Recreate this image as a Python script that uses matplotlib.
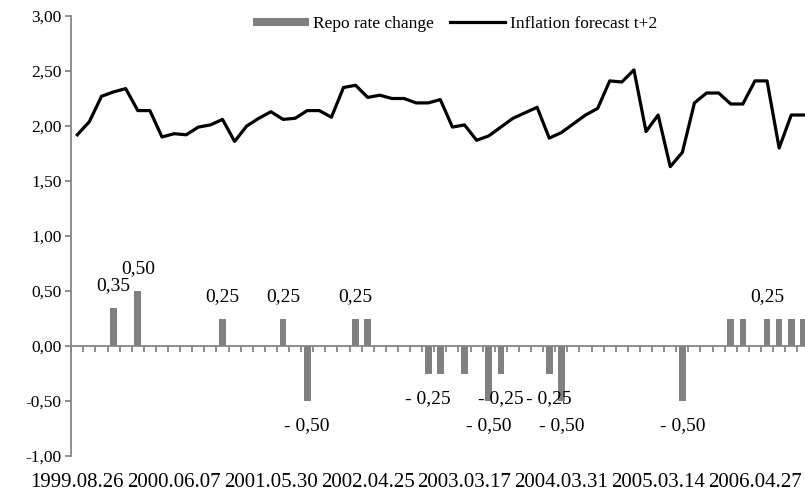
import numpy as np
import matplotlib.pyplot as plt
from matplotlib.lines import Line2D

plt.rcParams['font.family'] = ['Liberation Serif', 'DejaVu Serif']

# Inflation forecast (t+2) at each policy meeting
inflation_forecast = [
    1.92, 2.04, 2.27, 2.31, 2.34, 2.14, 2.14, 1.90, 1.93, 1.92,
    1.99, 2.01, 2.06, 1.86, 2.00, 2.07, 2.13, 2.06, 2.07, 2.14,
    2.14, 2.08, 2.35, 2.37, 2.26, 2.28, 2.25, 2.25, 2.21, 2.21,
    2.24, 1.99, 2.01, 1.87, 1.91, 1.99, 2.07, 2.12, 2.17, 1.89,
    1.94, 2.02, 2.10, 2.16, 2.41, 2.40, 2.51, 1.95, 2.10, 1.63,
    1.76, 2.21, 2.30, 2.30, 2.20, 2.20, 2.41, 2.41, 1.80, 2.10,
    2.10,
]

# Repo rate change at each meeting
repo_change = [
    0, 0, 0, 0.35, 0, 0.50, 0, 0, 0, 0,
    0, 0, 0.25, 0, 0, 0, 0, 0.25, 0, -0.50,
    0, 0, 0, 0.25, 0.25, 0, 0, 0, 0, -0.25,
    -0.25, 0, -0.25, 0, -0.50, -0.25, 0, 0, 0, -0.25,
    -0.50, 0, 0, 0, 0, 0, 0, 0, 0, 0,
    -0.50, 0, 0, 0, 0.25, 0.25, 0, 0.25, 0.25, 0.25,
    0.25,
]

# bars that carry a data label
labeled_bars = [3, 5, 12, 17, 19, 23, 29, 34, 35, 39, 40, 50, 57]

tick_labels = ['1999.08.26', '2000.06.07', '2001.05.30', '2002.04.25',
               '2003.03.17', '2004.03.31', '2005.03.14', '2006.04.27']
label_step = 8

x = np.arange(len(inflation_forecast))

fig = plt.figure(figsize=(8.05, 4.94), dpi=100)
ax = fig.add_axes([71.25 / 805, 38 / 494, (809.4 - 71.25) / 805, 440 / 494])

ax.bar(x, repo_change, width=0.55, color='#808080', zorder=2)
ax.plot(x, inflation_forecast, color='black', lw=2.3, zorder=3)

for i in labeled_bars:
    v = repo_change[i]
    txt = f"{abs(v):.2f}".replace('.', ',')
    if v < 0:
        txt = '- ' + txt
    ax.annotate(txt, (i, v), xytext=(0, 16 if v > 0 else -18),
                textcoords='offset points', ha='center', va='center',
                fontsize=14)

ax.set_xlim(-0.5, len(x) - 0.5)
ax.set_ylim(-1, 3)
yt = np.arange(-1, 3.01, 0.5)
ax.set_yticks(yt)
ax.set_yticklabels([f"{v:.2f}".replace('.', ',') for v in yt], fontsize=12.5)

gray = '#868686'
for s in ['top', 'right']:
    ax.spines[s].set_visible(False)
ax.spines['left'].set_color(gray)
ax.spines['left'].set_linewidth(1.3)
ax.spines['bottom'].set_position(('data', 0))
ax.spines['bottom'].set_color(gray)
ax.spines['bottom'].set_linewidth(1.3)

ax.set_xticks(np.arange(-0.5, len(x), 1))
ax.tick_params(axis='x', length=4, width=1.3, color=gray, labelbottom=False)
ax.tick_params(axis='y', length=4, width=1.3, color=gray, pad=3)

# date labels along the bottom of the plot area
sec = ax.secondary_xaxis('bottom')
sec.set_xticks(x[::label_step], tick_labels)
sec.tick_params(length=0, pad=12, labelsize=15)
sec.spines['bottom'].set_visible(False)

handles = [Line2D([], [], color='#808080', lw=5.8, solid_capstyle='butt'),
           Line2D([], [], color='black', lw=2.3)]
fig.legend(handles, ['Repo rate change', 'Inflation forecast t+2'],
           loc='center', bbox_to_anchor=(455 / 805, 1 - 24 / 494), ncol=2,
           frameon=False, handlelength=3.2, handletextpad=0.25,
           columnspacing=0.9, fontsize=12.5)

fig.savefig('out.png', dpi=100)
